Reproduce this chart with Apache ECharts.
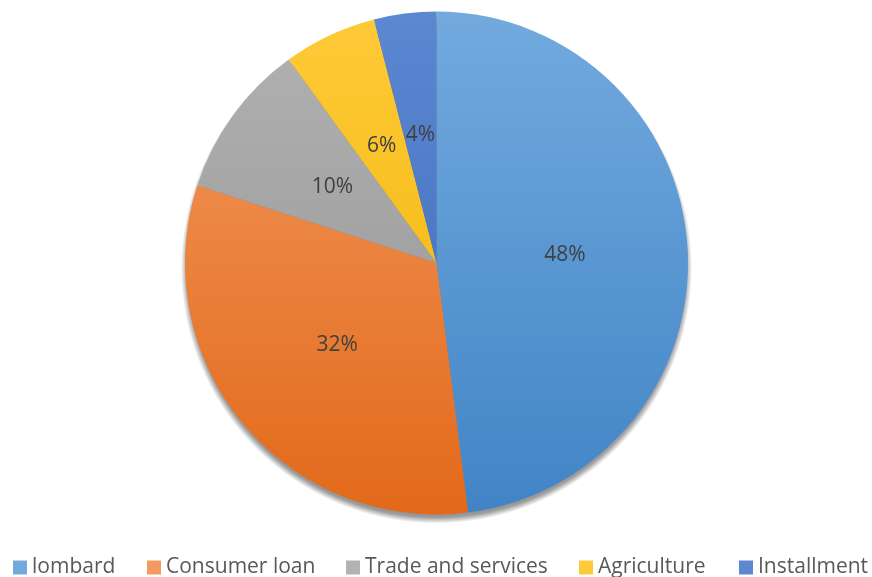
<!DOCTYPE html>
<html>
<head>
<meta charset="utf-8">
<script src="https://cdn.jsdelivr.net/npm/echarts@6/dist/echarts.min.js"></script>
<style>
  html, body { margin: 0; padding: 0; background: #ffffff; }
  #chart { width: 872px; height: 577px; }
</style>
</head>
<body>
<div id="chart"></div>
<script>
// Loan portfolio structure, share of each segment (%)
const categories = ['lombard', 'Consumer loan', 'Trade and services', 'Agriculture', 'Installment'];
const shares = [48, 32, 10, 6, 4];

// Top / bottom shades for each slice's vertical gradient
const topColors = ['#72aade', '#f39a60', '#b2b2b2', '#ffca38', '#5c88d2'];
const bottomColors = ['#4184c6', '#e2691a', '#929292', '#eeb200', '#3a66b6'];

const cx = 436.5, cy = 263, r = 251.5;

function grad(i) {
  return new echarts.graphic.LinearGradient(0, cy - r, 0, cy + r, [
    { offset: 0, color: topColors[i] },
    { offset: 1, color: bottomColors[i] }
  ], true);
}

// soft drop shadow: a slightly larger, lowered disc fading out at its rim
const shadowR = r + 4, shadowDy = 5;
const shadowFill = new echarts.graphic.RadialGradient(0.5, 0.5, 0.5, [
  { offset: 0, color: 'rgba(0,0,0,0.5)' },
  { offset: (r - 10) / shadowR, color: 'rgba(0,0,0,0.5)' },
  { offset: (r - 2) / shadowR, color: 'rgba(0,0,0,0.38)' },
  { offset: 1, color: 'rgba(0,0,0,0)' }
]);

const legendLeft = [13, 147, 346, 579, 739];

const chart = echarts.init(document.getElementById('chart'), null, { renderer: 'canvas' });

chart.setOption({
  animation: false,
  backgroundColor: '#ffffff',
  legend: categories.map((name, i) => ({
    data: [name],
    left: legendLeft[i],
    top: 557,
    padding: 0,
    itemWidth: 14,
    itemHeight: 14,
    icon: 'rect',
    selectedMode: false,
    textStyle: { fontFamily: 'Open Sans', fontSize: 21, lineHeight: 20, color: '#595959', padding: [0, 0, 0, 0] }
  })),
  series: [
    {
      type: 'pie',
      name: 'shadow',
      silent: true,
      center: [cx, cy + shadowDy],
      radius: [0, shadowR],
      label: { show: false },
      labelLine: { show: false },
      emphasis: { disabled: true },
      itemStyle: { color: shadowFill },
      data: [{ value: 1, name: 'shadow' }],
      z: 1
    },
    {
      type: 'pie',
      name: 'shares',
      center: [cx, cy],
      radius: r,
      startAngle: 90,
      clockwise: true,
      z: 2,
      label: {
        show: true,
        position: 'inside',
        formatter: (p) => shares[p.dataIndex] + '%',
        fontFamily: 'Open Sans',
        fontSize: 21,
        color: '#404040'
      },
      labelLine: { show: false },
      itemStyle: { borderWidth: 0 },
      data: categories.map((name, i) => ({
        name: name,
        value: shares[i],
        itemStyle: { color: grad(i) }
      }))
    }
  ]
});
</script>
</body>
</html>
